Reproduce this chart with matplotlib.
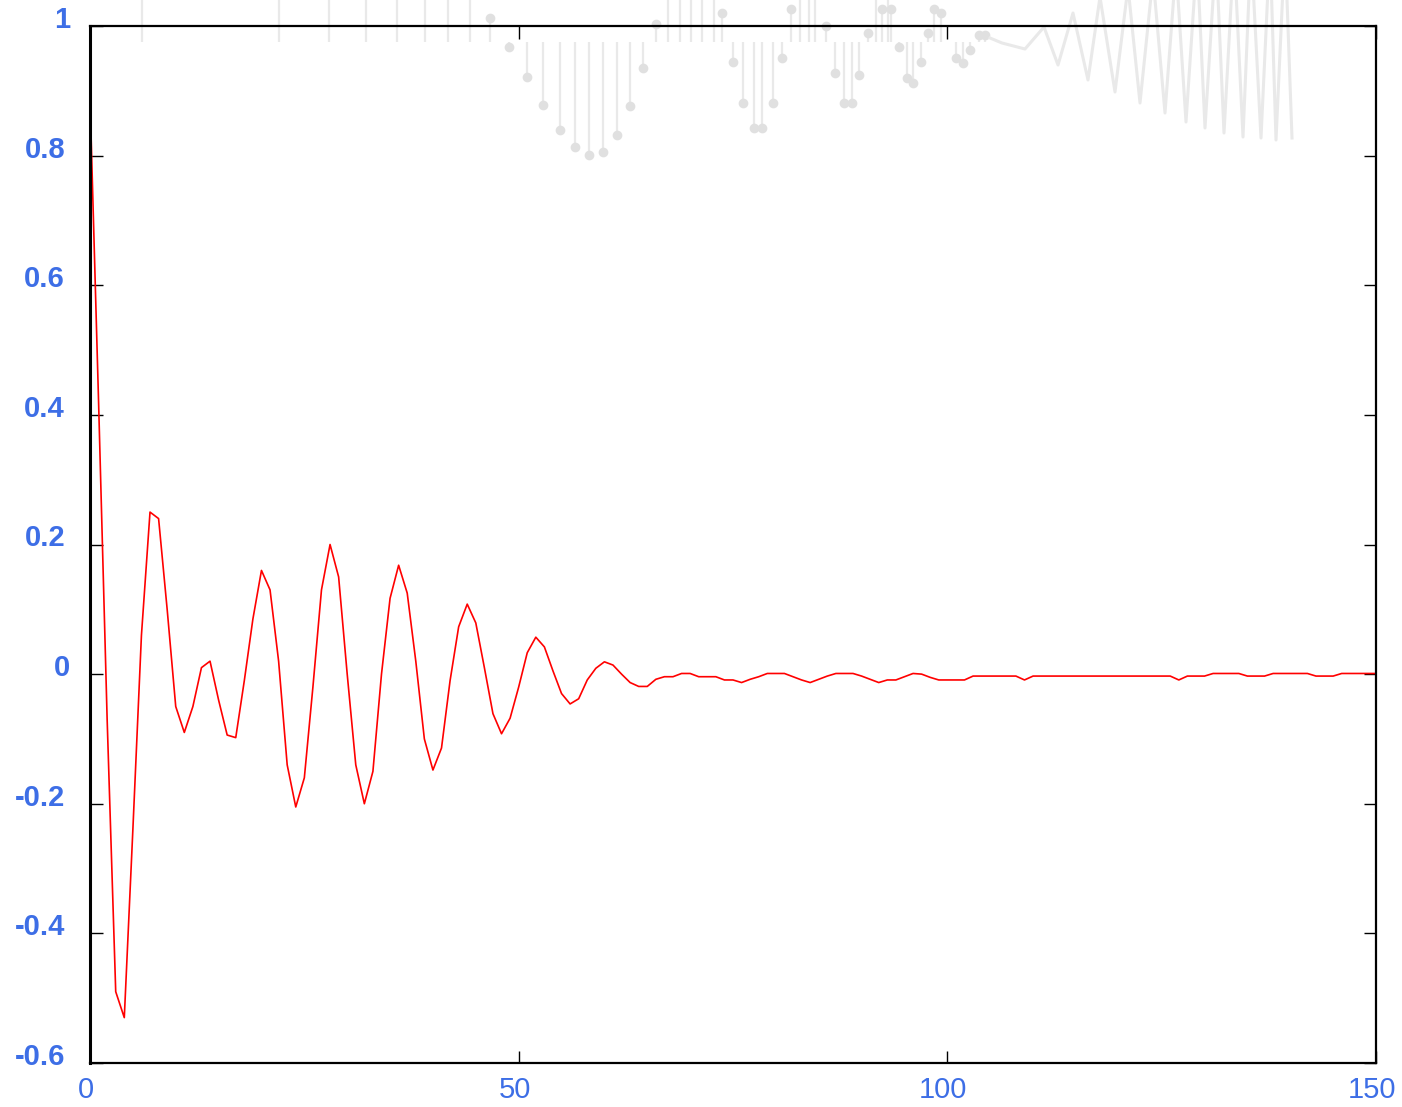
#! /usr/bin/env python

# imports of external packages to use in our code
import numpy as np
import matplotlib
matplotlib.use('Agg')
import matplotlib.pyplot as plt
import matplotlib.transforms as mtransforms

plt.rcParams['font.family'] = ['Liberation Sans', 'DejaVu Sans']
plt.rcParams['axes.unicode_minus'] = False

# red curve, one value per lag 0..150
r_vals = [0.89, 0.42, -0.07, -0.49, -0.53, -0.24, 0.06, 0.25, 0.24, 0.10,
          -0.05, -0.09, -0.05, 0.01, 0.02, -0.04, -0.094, -0.098, -0.01, 0.085,
          0.16, 0.13, 0.02, -0.14, -0.205, -0.16, -0.02, 0.13, 0.20, 0.15,
          0.00, -0.14, -0.20, -0.15, 0.00, 0.117, 0.168, 0.125, 0.02, -0.10,
          -0.148, -0.114, -0.01, 0.073, 0.108, 0.079, 0.01, -0.061, -0.092, -0.068,
          -0.02, 0.033, 0.057, 0.042, 0.005, -0.03, -0.046, -0.038, -0.009, 0.009,
          0.019, 0.014, 0.0, -0.013, -0.019, -0.019, -0.008, -0.004, -0.004, 0.001,
          0.001, -0.004, -0.004, -0.004, -0.009, -0.009, -0.013, -0.008, -0.004, 0.001,
          0.001, 0.001, -0.004, -0.009, -0.013, -0.008, -0.003, 0.001, 0.001, 0.001,
          -0.003, -0.008, -0.013, -0.009, -0.009, -0.004, 0.001, 0.0, -0.005, -0.009,
          -0.009, -0.009, -0.009, -0.003, -0.003, -0.003, -0.003, -0.003, -0.003, -0.009,
          -0.003, -0.003, -0.003, -0.003, -0.003, -0.003, -0.003, -0.003, -0.003, -0.003,
          -0.003, -0.003, -0.003, -0.003, -0.003, -0.003, -0.003, -0.009, -0.003, -0.003,
          -0.003, 0.001, 0.001, 0.001, 0.001, -0.003, -0.003, -0.003, 0.001, 0.001,
          0.001, 0.001, 0.001, -0.003, -0.003, -0.003, 0.001, 0.001, 0.001, 0.001,
          0.001]
lags = np.arange(len(r_vals))

xtick_vals = [0, 50, 100, 150]
xtick_labels = ['0', '50', '100', '150']
ytick_vals = [-0.6, -0.4, -0.2, 0, 0.2, 0.4, 0.6, 0.8, 1]
ytick_labels = ['-0.6', '-0.4', '-0.2', '0', '0.2', '0.4', '0.6', '0.8', '1']

# faint ghost of another stem plot showing through at the top
ghost_up_x = [142, 279, 329, 366, 397, 425, 448, 470, 668, 680, 691, 702, 714,
              800, 809, 815, 876, 888]
ghost_stem_x = [490, 509, 527, 543, 560, 575, 589, 603, 617, 630, 643, 656,
                722, 733, 743, 754, 762, 773, 782, 791, 826, 835, 844, 852,
                859, 868, 882, 891, 899, 907, 913, 921, 928, 934, 941, 956,
                963, 970, 979, 985]
ghost_stem_y = [0.24, -0.05, -0.35, -0.63, -0.88, -1.05, -1.13, -1.10, -0.93, -0.64, -0.26, 0.18,
                0.29, -0.20, -0.61, -0.86, -0.86, -0.61, -0.16, 0.33, 0.16, -0.31, -0.61, -0.61,
                -0.33, 0.09, 0.33, 0.33, -0.05, -0.36, -0.41, -0.20, 0.09, 0.33, 0.29, -0.16,
                -0.21, -0.08, 0.07, 0.07]
chirp_x = [990, 1002, 1025, 1044, 1058, 1073, 1088, 1100, 1115, 1128, 1140, 1153,
           1165, 1176, 1186, 1197, 1205, 1216, 1224, 1234, 1243, 1251, 1261, 1270,
           1276, 1285, 1292]
chirp_y = [0.04, -0.01, -0.07, 0.15, -0.23, 0.29, -0.38, 0.45, -0.50, 0.55, -0.61, 0.65,
           -0.71, 0.75, -0.80, 0.85, -0.86, 0.90, -0.91, 0.92, -0.95, 0.95, -0.96, 0.96,
           -0.98, 0.98, -0.96]

fig = plt.figure(figsize=(14.02, 11.07), dpi=100)

# ghost layer
gh = fig.add_axes([0, 1 - 200 / 1107, 1, 200 / 1107])
gh.set_xlim(0, 1402)
gh.set_ylim(-1.58, 0.42)
gh.axis('off')
grey = '#e9e9e9'
gh.vlines(ghost_up_x, 0, 0.6, color=grey, lw=1.6)
gh.vlines(ghost_stem_x, 0, ghost_stem_y, color=grey, lw=1.6)
gh.plot(ghost_stem_x, ghost_stem_y, 'o', color='#e0e0e0', ms=7, mew=0)
gh.plot(chirp_x, chirp_y, color=grey, lw=2.2)

# main plot
ax = fig.add_axes([90 / 1402, 44 / 1107, 1286 / 1402, 1037 / 1107])
ax.set_facecolor('none')
ax.plot(lags, r_vals, color='red', lw=1.2)
ax.set_xlim(0, 150)
ax.set_ylim(-0.6, 1)
ax.set_xticks(xtick_vals)
ax.set_xticklabels(xtick_labels)
ax.set_yticks(ytick_vals)
ax.set_yticklabels(ytick_labels)
ax.tick_params(direction='in', length=9, width=1, top=True, right=True,
               labelsize=21, labelcolor='#3d6ee6')
ax.tick_params(axis='y', pad=18)
ax.tick_params(axis='x', pad=9)
for s in ax.spines.values():
    s.set_linewidth(1.6)
ax.spines['left'].set_linewidth(2.2)

# labels sit a little off their ticks in the reference
for lab in ax.get_yticklabels():
    lab.set_fontweight('bold')
    dx = 0.05 if len(lab.get_text()) == 1 else 0
    lab.set_transform(lab.get_transform() + mtransforms.ScaledTranslation(dx, 0.09, fig.dpi_scale_trans))
for lab in ax.get_xticklabels():
    lab.set_transform(lab.get_transform() + mtransforms.ScaledTranslation(-0.04, 0, fig.dpi_scale_trans))

plt.savefig('out.png', dpi=100)
